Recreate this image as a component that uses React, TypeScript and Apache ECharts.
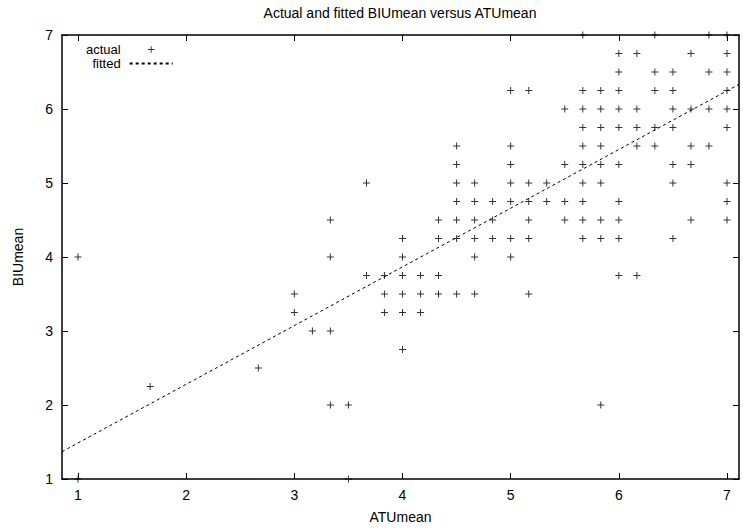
import React, { useEffect, useRef } from "react";
import * as echarts from "echarts";

const TITLE = "Actual and fitted BIUmean versus ATUmean";
const X_NAME = "ATUmean";
const Y_NAME = "BIUmean";
const X_TICKS = [1, 2, 3, 4, 5, 6, 7];
const X_RANGE = [0.852, 7.111];
const Y_RANGE = [1, 7];

// ATUmean levels (columns of points) and the BIUmean values seen at each level
const atuLevels = [
  1, 1.667, 2.667, 3, 3.167, 3.333, 3.5, 3.667, 3.833, 4, 4.167, 4.333, 4.5, 4.667,
  4.833, 5, 5.167, 5.333, 5.5, 5.667, 5.833, 6, 6.167, 6.333, 6.5, 6.667, 6.833, 7,
];
const biuAtLevel = [
  [4, 1],
  [2.25],
  [2.5],
  [3.5, 3.25],
  [3],
  [4.5, 4, 3, 2],
  [2, 1],
  [5, 3.75],
  [3.75, 3.5, 3.25],
  [4.25, 4, 3.75, 3.5, 3.25, 2.75],
  [3.75, 3.5, 3.25],
  [4.5, 4.25, 3.75, 3.5],
  [5.5, 5.25, 5, 4.75, 4.5, 4.25, 3.5],
  [5, 4.75, 4.5, 4.25, 4, 3.5],
  [4.75, 4.5, 4.25],
  [6.25, 5.5, 5.25, 5, 4.75, 4.25, 4],
  [6.25, 5, 4.75, 4.5, 4.25, 3.5],
  [5, 4.75],
  [6, 5.25, 4.75, 4.5],
  [7, 6.25, 6, 5.75, 5.5, 5.25, 5, 4.75, 4.5, 4.25],
  [6.25, 6, 5.75, 5.5, 5.25, 5, 4.5, 4.25, 2],
  [6.75, 6.5, 6.25, 6, 5.75, 5.25, 4.75, 4.5, 4.25, 3.75],
  [6.75, 6, 5.75, 5.5, 3.75],
  [7, 6.5, 6.25, 5.75, 5.5],
  [6.5, 6.25, 6, 5.75, 5.25, 5, 4.25],
  [6.75, 6, 5.5, 5.25, 4.5],
  [7, 6.5, 6, 5.5],
  [7, 6.75, 6.5, 6.25, 6, 5.75, 5, 4.75, 4.5],
];

// fitted line end points
const fittedX = [0.852, 7.111];
const fittedY = [1.369, 6.334];

const FONT = "'Liberation Sans', Arial, Helvetica, sans-serif";
const PLUS = "path://M3,0H4V7H3Z M0,3H7V4H0Z";
const LEGEND_PLUS =
  "path://M0,0h0.01v0.01h-0.01z M13.99,13.99h0.01v0.01h-0.01z M6.5,3.5h1v7h-1z M3.5,6.5h7v1h-7z";

export default function App() {
  const ref = useRef<HTMLDivElement>(null);
  useEffect(() => {
    if (!ref.current) return;
    const chart = echarts.init(ref.current, null, { renderer: "svg" });

    const points: number[][] = [];
    atuLevels.forEach((x, i) => {
      biuAtLevel[i].forEach((y) => points.push([x, y]));
    });
    const fitted = fittedX.map((x, i) => [x, fittedY[i]]);

    const axisLine = { show: true, onZero: false, lineStyle: { color: "#000", width: 1.5 } };
    const tickStyle = { color: "#000", width: 1 };
    const labelStyle = { fontSize: 14, color: "#000", fontFamily: FONT };

    chart.setOption({
      animation: false,
      backgroundColor: "#fff",
      textStyle: { fontFamily: FONT },
      title: {
        text: TITLE,
        left: 400,
        top: 6,
        textAlign: "center",
        padding: 0,
        textStyle: { fontSize: 14, fontWeight: "normal", color: "#000", fontFamily: FONT },
      },
      grid: { left: 62, right: 4, top: 35, bottom: 50, containLabel: false, outerBoundsMode: "none" },
      legend: {
        orient: "vertical",
        align: "right",
        left: 86,
        top: 43,
        padding: 0,
        itemGap: 1,
        itemWidth: 43,
        itemHeight: 13,
        selectedMode: false,
        textStyle: { fontSize: 13, color: "#000", fontFamily: FONT, lineHeight: 13, padding: [0, 4, 0, 0] },
        data: [
          { name: "actual", icon: LEGEND_PLUS, itemStyle: { color: "#000" } },
          { name: "fitted", itemStyle: { opacity: 0, color: "transparent" } },
        ],
      },
      xAxis: [
        {
          type: "value",
          gridIndex: 0,
          position: "bottom",
          min: X_RANGE[0],
          max: X_RANGE[1],
          name: X_NAME,
          nameLocation: "middle",
          nameGap: 31,
          nameMoveOverlap: false,
          nameTextStyle: labelStyle,
          axisLine,
          axisTick: { show: true, inside: true, length: 6, customValues: X_TICKS, lineStyle: tickStyle },
          axisLabel: { customValues: X_TICKS, margin: 9, ...labelStyle },
          splitLine: { show: false },
        },
        {
          type: "value",
          gridIndex: 0,
          position: "top",
          min: X_RANGE[0],
          max: X_RANGE[1],
          axisLine,
          axisTick: { show: true, inside: true, length: 6, customValues: X_TICKS, lineStyle: tickStyle },
          axisLabel: { show: false, customValues: X_TICKS },
          splitLine: { show: false },
        },
      ],
      yAxis: [
        {
          type: "value",
          gridIndex: 0,
          position: "left",
          min: Y_RANGE[0],
          max: Y_RANGE[1],
          interval: 1,
          name: Y_NAME,
          nameLocation: "middle",
          nameRotate: 90,
          nameGap: 37,
          nameMoveOverlap: false,
          nameTextStyle: labelStyle,
          axisLine,
          axisTick: { show: true, inside: true, length: 6, lineStyle: tickStyle },
          axisLabel: { margin: 9, ...labelStyle },
          splitLine: { show: false },
        },
        {
          type: "value",
          gridIndex: 0,
          position: "right",
          min: Y_RANGE[0],
          max: Y_RANGE[1],
          interval: 1,
          axisLine,
          axisTick: { show: true, inside: true, length: 6, lineStyle: tickStyle },
          axisLabel: { show: false },
          splitLine: { show: false },
        },
      ],
      series: [
        {
          name: "actual",
          type: "scatter",
          xAxisIndex: 0,
          yAxisIndex: 0,
          data: points,
          symbol: PLUS,
          symbolSize: 7,
          itemStyle: { color: "#000" },
          silent: true,
          z: 3,
        },
        {
          name: "fitted",
          type: "line",
          xAxisIndex: 0,
          yAxisIndex: 0,
          data: fitted,
          symbol: "none",
          itemStyle: { color: "#000" },
          lineStyle: { color: "#000", width: 1, type: [3, 3] },
          silent: true,
          z: 2,
        },
      ],
    });
    return () => chart.dispose();
  }, []);
  return (
    <div
      ref={ref}
      style={{ position: "fixed", left: 0, top: 0, width: 743, height: 529, background: "#fff" }}
    />
  );
}
